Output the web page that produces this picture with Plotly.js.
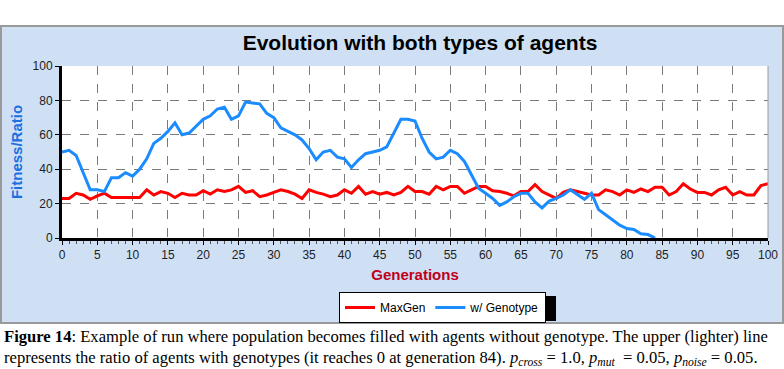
<!DOCTYPE html>
<html>
<head>
<meta charset="utf-8">
<script src="https://cdn.plot.ly/plotly-3.0.1.min.js"></script>
<style>
html,body{margin:0;padding:0;background:#fff;}
#chart{width:784px;height:369px;}
</style>
</head>
<body>
<div id="chart"></div>
<script>
// ---- data ----
const generationsGeno = [0,1,2,3,4,5,6,7,8,9,10,11,12,13,14,15,16,17,18,19,20,21,22,23,24,25,26,27,28,29,30,31,32,33,34,35,36,37,38,39,40,41,42,43,44,45,46,47,48,49,50,51,52,53,54,55,56,57,58,59,60,61,62,63,64,65,66,67,68,69,70,71,72,73,74,75,76,77,78,79,80,81,82,83,84];
const withGenotype = [50,51,48,38,28,28,27,35,35,38,36,40,46,55,58,62,67,60,61,65,69,71,75,76,69,71,79,78.5,78,72.5,70,64,62,60,57,52,45.5,50,51,47,46,41,45.5,49,50,51,53,61,69,69,68,58,50,46,47,51,49,44.5,37,29,26,23,19,21,24,26,26,21,17.5,21.5,23,25,28,25,22.5,26,16.5,13.5,10.5,7.5,5.5,5,2.5,2,0];
const generationsMax = [0,1,2,3,4,5,6,7,8,9,10,11,12,13,14,15,16,17,18,19,20,21,22,23,24,25,26,27,28,29,30,31,32,33,34,35,36,37,38,39,40,41,42,43,44,45,46,47,48,49,50,51,52,53,54,55,56,57,58,59,60,61,62,63,64,65,66,67,68,69,70,71,72,73,74,75,76,77,78,79,80,81,82,83,84,85,86,87,88,89,90,91,92,93,94,95,96,97,98,99,100];
const maxGen = [23,23,26,25,22.5,24.5,26,23.5,23.5,23.5,23.5,23.5,28,25,27,26,23.5,26,25,25,27.5,25.5,28,27,28,30,26.5,27.5,24,25,26.5,28,27,25.5,23,28,26.5,25.5,24,25,28,26,30,25.5,27,25.5,26.5,25,26.5,30,27,27,25.5,30,28,30,30,26,28,30,30,27.5,27,26,24.5,27,27,31,27,25,23,26.5,28,27,26,25,25,28,27,25,28,26.5,28.5,27,29.5,29.5,25,27,31.5,28.5,26.5,26.5,25,28,29.5,25,27,25,25,30.5,31.5];
const seriesNames = ["MaxGen", "w/ Genotype"];
const chartTitle = "Evolution with both types of agents";
const xTitle = "Generations";
const yTitle = "Fitness/Ratio";
const captionLine1 = "<b>Figure 14</b>: Example of run where population becomes filled with agents without genotype. The upper (lighter) line";
const captionLine2 = "represents the ratio of agents with genotypes (it reaches 0 at generation 84). <i>p<sub>cross</sub></i> = 1.0, <i>p<sub>mut</sub></i>  = 0.05, <i>p<sub>noise</sub></i> = 0.05.";

// ---- layout helpers (pixel -> paper) ----
const W = 784, H = 369, L = 62, R = 16, T = 66, B = 131;
const PW = W - L - R, PH = H - T - B;
const px = v => (v - L) / PW;
const py = v => (H - B - v) / PH;

const traces = [
  {x: generationsMax, y: maxGen, name: seriesNames[0], type: 'scatter', mode: 'lines',
   line: {color: '#ff0000', width: 3}},
  {x: generationsGeno, y: withGenotype, name: seriesNames[1], type: 'scatter', mode: 'lines',
   line: {color: '#1a8cff', width: 3}}
];

const layout = {
  width: W, height: H,
  margin: {l: L, r: R, t: T, b: B, pad: 0},
  paper_bgcolor: '#ffffff',
  plot_bgcolor: '#ffffff',
  font: {family: 'Liberation Sans, Arial, sans-serif', size: 12, color: '#222'},
  title: {text: '<b>' + chartTitle + '</b>', font: {size: 21, color: '#000'},
          x: px(420), xanchor: 'center', xref: 'paper', y: 1 - 43 / H, yanchor: 'middle'},
  xaxis: {
    range: [0, 100], tickmode: 'linear', tick0: 0, dtick: 5,
    showline: true, linecolor: '#000', linewidth: 3,
    ticks: 'outside', ticklen: 4, tickwidth: 1, tickcolor: '#000',
    minor: {dtick: 1, ticks: 'outside', ticklen: 3, tickcolor: '#555', showgrid: false},
    showgrid: true, gridcolor: '#7a7a7a', griddash: 'dash', gridwidth: 1,
    zeroline: false, fixedrange: true,
    tickfont: {size: 12, color: '#222'},
    title: {text: '<b>' + xTitle + '</b>', font: {size: 15, color: '#c0001a'}, standoff: 9}
  },
  yaxis: {
    range: [0, 100], tickmode: 'linear', tick0: 0, dtick: 20,
    showline: true, linecolor: '#000', linewidth: 3,
    ticks: 'outside', ticklen: 4, tickwidth: 1, tickcolor: '#000',
    showgrid: true, gridcolor: '#7a7a7a', griddash: 'dash', gridwidth: 1,
    zeroline: false, fixedrange: true,
    tickfont: {size: 12, color: '#222'},
    title: {text: '<b>' + yTitle + '</b>', font: {size: 15, color: '#1c6fe0'}, standoff: 7}
  },
  showlegend: true,
  legend: {
    orientation: 'h', x: px(339), xanchor: 'left', y: py(292), yanchor: 'top',
    bgcolor: '#ffffff', bordercolor: '#000', borderwidth: 1,
    font: {size: 12, color: '#000'}, itemwidth: 30,
    traceorder: 'normal'
  },
  shapes: [
    // chart panel
    {type: 'rect', xref: 'paper', yref: 'paper', layer: 'below',
     x0: px(1), x1: px(783), y0: py(323), y1: py(26),
     fillcolor: '#cfe0f5', line: {color: '#9a9a9a', width: 2}},
    // plot area white
    {type: 'rect', xref: 'paper', yref: 'paper', layer: 'below',
     x0: 0, x1: 1, y0: 0, y1: 1, fillcolor: '#ffffff', line: {width: 0}},
    // legend shadow (drawn below the legend box)
    {type: 'rect', xref: 'paper', yref: 'paper', layer: 'below',
     x0: px(343), x1: px(556), y0: py(321), y1: py(296),
     fillcolor: '#000', line: {width: 0}},
    // right border of plot area
    {type: 'line', xref: 'paper', yref: 'paper', layer: 'above',
     x0: 1, x1: 1, y0: 0, y1: 1, line: {color: '#9a9a9a', width: 1}}
  ],
  annotations: [
    {text: captionLine1, xref: 'paper', yref: 'paper', x: px(2), y: py(336),
     xanchor: 'left', yanchor: 'middle', showarrow: false, align: 'left',
     font: {family: 'Liberation Serif, Times New Roman, serif', size: 16.6, color: '#000'}},
    {text: captionLine2, xref: 'paper', yref: 'paper', x: px(2), y: py(358),
     xanchor: 'left', yanchor: 'middle', showarrow: false, align: 'left',
     font: {family: 'Liberation Serif, Times New Roman, serif', size: 16.6, color: '#000'}}
  ]
};

Plotly.newPlot('chart', traces, layout, {displayModeBar: false, staticPlot: true});
</script>
</body>
</html>
